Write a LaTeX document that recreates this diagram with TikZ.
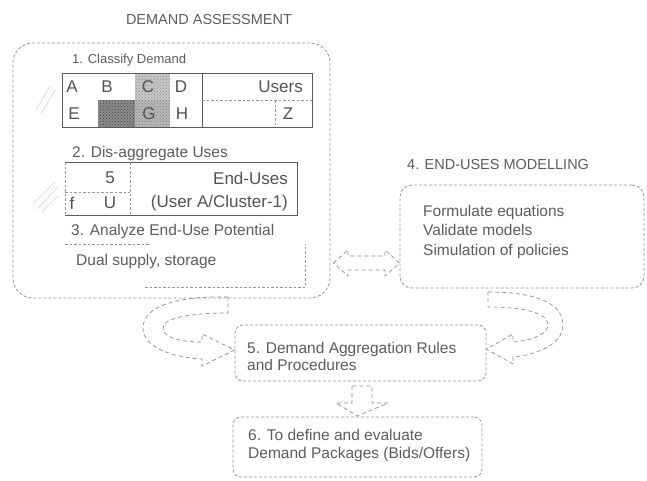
\documentclass[tikz,border=0pt]{standalone}
\usepackage{fontspec}
\setmainfont{Liberation Sans}
\usetikzlibrary{patterns}
\definecolor{ink}{HTML}{5C5C5C}
\definecolor{edge}{HTML}{959595}
\definecolor{tline}{HTML}{5A5A5A}
\tikzset{
  dbox/.style={draw=edge, dash pattern=on 3pt off 2pt, line width=0.8pt, rounded corners=#1, inner sep=0pt},
  dbox/.default=10pt,
  tbl/.style={draw=tline, line width=1pt},
  thindash/.style={draw=edge, dash pattern=on 2.5pt off 2pt, line width=0.7pt},
  blockarrow/.style={draw=black!45, dash pattern=on 4pt off 3pt, line width=0.7pt, line join=round},
  txt/.style={text=ink, inner sep=0pt, anchor=west, font=\fontsize{15.5}{18}\selectfont},
  captxt/.style={text=ink, inner sep=0pt, font=\fontsize{14.5}{17}\selectfont},
  cell/.style={text=black!68, inner sep=0pt, font=\fontsize{17}{20}\selectfont},
  artifact/.style={draw=black!18, line width=0.6pt}
}
\begin{document}
\begin{tikzpicture}[x=1pt,y=-1pt]
\useasboundingbox (0,0) rectangle (647,480);

% ---------- Demand assessment ----------
\node[captxt] (tda) at (209,20) {DEMAND ASSESSMENT};
\node[dbox=20pt, minimum width=317pt, minimum height=255pt] (da) at (171.5,170.5) {};

\node[txt, font=\fontsize{13}{15}\selectfont] (s1) at (72,60) {1. Classify Demand};

% table 1
\fill[black!22] (135,73) rectangle (170,100);
\fill[pattern=crosshatch dots, pattern color=black!45] (135,73) rectangle (170,100);
\fill[black!45] (98,100) rectangle (135,127);
\fill[pattern=crosshatch dots, pattern color=black!75] (98,100) rectangle (135,127);
\fill[black!28] (135,100) rectangle (170,127);
\fill[pattern=crosshatch dots, pattern color=black!50] (135,100) rectangle (170,127);
\draw[tbl] (62,73) rectangle (312,127);
\draw[tbl] (202,73) -- (202,127);
\draw[thindash] (202,100) -- (312,100);
\draw[thindash] (275,100) -- (275,127);
\node[cell] (cA) at (72,87) {A};
\node[cell] (cB) at (107,87) {B};
\node[cell] (cC) at (148,87) {C};
\node[cell] (cD) at (181,87) {D};
\node[cell, anchor=east] (cU) at (303,87) {Users};
\node[cell] (cE) at (74,114) {E};
\node[cell] (cG) at (149,114) {G};
\node[cell] (cH) at (182,114) {H};
\node[cell] (cZ) at (288,114) {Z};

\node[txt] (s2) at (72,153) {2. Dis-aggregate Uses};

% table 2
\draw[tbl] (65,162) -- (297,162) -- (297,215) -- (65,215);
\draw[thindash] (65,162) -- (65,215);
\draw[thindash] (130,162) -- (130,215);
\draw[thindash] (65,192) -- (130,192);
\node[cell] (c5) at (110,178) {5};
\node[cell, anchor=east] (cEU) at (288,178) {End-Uses};
\node[cell] (cf) at (72,203) {f};
\node[cell] (cUU) at (110,203) {U};
\node[cell, anchor=east] (cUA) at (288,203) {(User A/Cluster-1)};

\node[txt] (s3) at (71,231) {3. Analyze End-Use Potential};
\draw[thindash] (65,244) -- (150,244);
\draw[thindash] (145,287) -- (305,287) -- (305,244);
\node[txt] (dual) at (76,261) {Dual supply, storage};

% scan artefacts (hatch marks)
\draw[artifact] (36,110) -- (50,86);
\draw[artifact] (41,114) -- (55,90);
\draw[artifact] (33,204) -- (55,182);
\draw[artifact] (37,209) -- (58,187);
\draw[artifact] (42,212) -- (58,196);

% ---------- End-uses modelling ----------
\node[captxt, anchor=west] (t4) at (407,165) {4. END-USES MODELLING};
\node[dbox=12pt, minimum width=244pt, minimum height=103pt] (em) at (522,236.5) {};
\node[txt, anchor=north west, align=left, font=\fontsize{15.5}{19.5}\selectfont] (emtxt) at (423,205)
  {Formulate equations\\Validate models\\Simulation of policies};

% ---------- Box 5 ----------
\node[dbox=8pt, minimum width=251pt, minimum height=56pt] (b5) at (360.5,353) {};
\node[txt, anchor=north west, align=left, font=\fontsize{15.5}{17}\selectfont] (b5txt) at (247,342)
  {5. Demand Aggregation Rules\\and Procedures};

% ---------- Box 6 ----------
\node[dbox=8pt, minimum width=249pt, minimum height=60pt] (b6) at (357.5,447) {};
\node[txt, anchor=north west, align=left, font=\fontsize{15.5}{18}\selectfont] (b6txt) at (248,429)
  {6. To define and evaluate\\Demand Packages (Bids/Offers)};

% ---------- hollow arrows ----------
% double arrow between box 1 and box 4
\draw[blockarrow] (da.east |- 0,263) ++(3,0) coordinate (dl)
  -- (348,250) -- (348,256) -- (385,256) -- (385,250) -- (em.west |- 0,263)
  -- (385,276) -- (385,270) -- (348,270) -- (348,276) -- cycle;

% box 5 -> box 6
\draw[blockarrow] (352,386) -- (352,403) -- (336,403) -- (b6.north |- 0,416)
  -- (388,403) -- (372,403) -- (372,386) -- cycle;

% box 1 -> box 5 (curved, left)
\draw[blockarrow] (228,297) .. controls (180,296) and (143,305) .. (143,328)
  .. controls (143,350) and (180,358) .. (202,359)
  -- (202,366) -- (b5.west |- 0,350) -- (202,334) -- (202,342)
  .. controls (182,342) and (163,338) .. (163,328)
  .. controls (163,318) and (190,313) .. (228,313) -- cycle;

% box 4 -> box 5 (curved, right)
\draw[blockarrow] (488,292) .. controls (540,292) and (563,305) .. (563,325)
  .. controls (563,345) and (535,355) .. (513,357)
  -- (513,364) -- (b5.east |- 0,349) -- (513,334) -- (513,342)
  .. controls (535,340) and (548,333) .. (548,325)
  .. controls (548,313) and (525,307) .. (488,307) -- cycle;
\end{tikzpicture}
\end{document}
